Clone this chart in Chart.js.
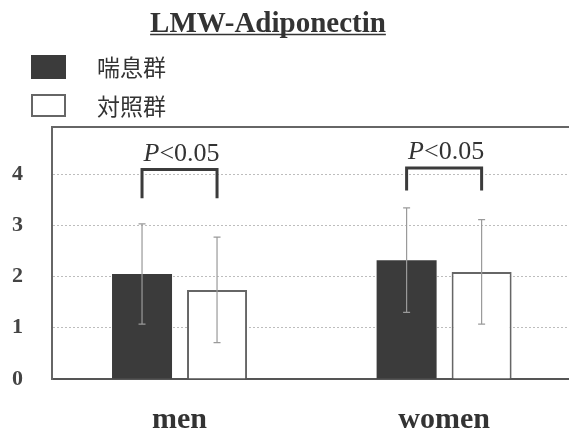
<!DOCTYPE html>
<html>
<head>
<meta charset="utf-8">
<script src="https://cdn.jsdelivr.net/npm/chart.js@4/dist/chart.umd.min.js"></script>
<style>
  html, body { margin: 0; padding: 0; background: #fff; overflow: hidden; }
  #wrap { width: 569px; height: 434px; }
</style>
</head>
<body>
<div id="wrap"><canvas id="c" width="569" height="434"></canvas></div>
<script>
// LMW-Adiponectin, asthma group vs control group, mean ± SD
const titleText = 'LMW-Adiponectin';
const categories = ['men', 'women'];
const seriesNames = ['喘息群', '対照群'];
const asthmaMeans = [2.05, 2.32];
const asthmaSD = [0.98, 1.02];
const controlMeans = [1.74, 2.09];
const controlSD = [1.03, 1.02];
const yTicks = [0, 1, 2, 3, 4];
const yRange = [0, 4.92];
const xRange = [-0.482, 1.472];
// significance brackets (value units) and their labels
const bracketTop = [4.09, 4.12];
const bracketBottom = [3.53, 3.68];
const sigItalic = ['P', 'P'];
const sigRest = ['<0.05', '<0.05'];

const DARK = '#3b3b3b';
const SERIF = "'Liberation Serif', 'DejaVu Serif', serif";
const CJK = "'Noto Sans CJK JP', 'Noto Sans', sans-serif";

const sdBySeries = [asthmaSD, controlSD];

const decorations = {
  id: 'decorations',
  afterDatasetsDraw(chart) {
    const ctx = chart.ctx;
    const area = chart.chartArea;
    const y = chart.scales.y;

    // top frame line
    ctx.save();
    ctx.strokeStyle = '#666';
    ctx.lineWidth = 2;
    ctx.beginPath();
    ctx.moveTo(area.left - 1, area.top);
    ctx.lineTo(area.right, area.top);
    ctx.stroke();

    // error bars
    chart.data.datasets.forEach((ds, di) => {
      const meta = chart.getDatasetMeta(di);
      meta.data.forEach((bar, i) => {
        const m = ds.data[i].y;
        const sd = sdBySeries[di][i];
        const yHi = y.getPixelForValue(m + sd);
        const yLo = y.getPixelForValue(m - sd);
        ctx.strokeStyle = '#9a9a9a';
        ctx.lineWidth = 1.2;
        ctx.beginPath();
        ctx.moveTo(bar.x, yHi); ctx.lineTo(bar.x, yLo);
        ctx.moveTo(bar.x - 3.5, yHi); ctx.lineTo(bar.x + 3.5, yHi);
        ctx.moveTo(bar.x - 3.5, yLo); ctx.lineTo(bar.x + 3.5, yLo);
        ctx.stroke();
      });
    });

    // significance brackets with P labels
    const m0 = chart.getDatasetMeta(0), m1 = chart.getDatasetMeta(1);
    categories.forEach((c, i) => {
      const xl = m0.data[i].x, xr = m1.data[i].x;
      const yt = y.getPixelForValue(bracketTop[i]);
      const yb = y.getPixelForValue(bracketBottom[i]);
      ctx.strokeStyle = DARK;
      ctx.lineWidth = 3;
      ctx.lineJoin = 'miter';
      ctx.beginPath();
      ctx.moveTo(xl, yb); ctx.lineTo(xl, yt); ctx.lineTo(xr, yt); ctx.lineTo(xr, yb);
      ctx.stroke();

      const fItal = 'italic 26px ' + SERIF;
      const fReg = '26px ' + SERIF;
      ctx.font = fItal; const w1 = ctx.measureText(sigItalic[i]).width;
      ctx.font = fReg; const w2 = ctx.measureText(sigRest[i]).width;
      const cx = (xl + xr) / 2 + 2;
      const x0 = cx - (w1 + w2) / 2;
      const base = yt - 9;
      ctx.fillStyle = '#333';
      ctx.textBaseline = 'alphabetic';
      ctx.textAlign = 'left';
      ctx.font = fItal; ctx.fillText(sigItalic[i], x0, base);
      ctx.font = fReg; ctx.fillText(sigRest[i], x0 + w1, base);
    });

    // underlined title
    ctx.font = 'bold 29px ' + SERIF;
    ctx.fillStyle = '#333';
    ctx.textAlign = 'center';
    ctx.textBaseline = 'alphabetic';
    const tx = 268, ty = 32;
    ctx.fillText(titleText, tx, ty);
    const tw = ctx.measureText(titleText).width;
    ctx.strokeStyle = '#333';
    ctx.lineWidth = 1.6;
    ctx.beginPath();
    ctx.moveTo(tx - tw / 2, ty + 2.5); ctx.lineTo(tx + tw / 2, ty + 2.5);
    ctx.stroke();

    // legend, built from the datasets
    const rows = [{ top: 55, h: 24, mid: 67 }, { top: 94, h: 23, mid: 106 }];
    chart.data.datasets.forEach((ds, di) => {
      const r = rows[di];
      ctx.fillStyle = ds.backgroundColor;
      ctx.fillRect(31, r.top, 35, r.h);
      if (ds.borderWidth) {
        ctx.strokeStyle = ds.borderColor;
        ctx.lineWidth = 2;
        ctx.strokeRect(32, r.top + 1, 33, r.h - 2);
      }
      ctx.fillStyle = '#333';
      ctx.font = '23px ' + CJK;
      ctx.textAlign = 'left';
      ctx.textBaseline = 'middle';
      ctx.fillText(ds.label, 97, r.mid);
    });
    ctx.restore();
  }
};

new Chart(document.getElementById('c'), {
  type: 'bar',
  data: {
    datasets: [
      {
        label: seriesNames[0],
        data: asthmaMeans.map((v, i) => ({ x: i, y: v })),
        backgroundColor: DARK,
        borderColor: DARK,
        borderWidth: 0
      },
      {
        label: seriesNames[1],
        data: controlMeans.map((v, i) => ({ x: i, y: v })),
        backgroundColor: '#ffffff',
        borderColor: '#666',
        borderWidth: 2,
        borderSkipped: 'bottom'
      }
    ]
  },
  options: {
    responsive: false,
    animation: false,
    layout: { padding: { top: 127, left: 0, right: 0, bottom: 0 } },
    categoryPercentage: 0.567,
    barPercentage: 0.8,
    plugins: {
      legend: { display: false },
      title: { display: false },
      tooltip: { enabled: false }
    },
    scales: {
      x: {
        type: 'linear',
        offset: false,
        min: xRange[0],
        max: xRange[1],
        afterBuildTicks: (s) => { s.ticks = categories.map((_, i) => ({ value: i })); },
        afterFit: (s) => { s.height = 55; },
        grid: { display: false, drawTicks: false, offset: false },
        border: { display: true, color: '#555', width: 2 },
        ticks: {
          callback: (v) => categories[v] ?? '',
          autoSkip: false,
          maxRotation: 0,
          padding: 23,
          color: '#333',
          font: { family: SERIF, size: 30, weight: 'bold' }
        }
      },
      y: {
        min: yRange[0],
        max: yRange[1],
        afterBuildTicks: (s) => { s.ticks = yTicks.map(v => ({ value: v })); },
        afterFit: (s) => { s.width = 52; },
        grid: { color: '#bdbdbd', lineWidth: 1, drawTicks: false },
        border: { display: true, color: '#666', width: 2, dash: [2, 2] },
        ticks: {
          padding: 29,
          color: '#444',
          font: { family: SERIF, size: 22, weight: 'bold' }
        }
      }
    }
  },
  plugins: [decorations]
});
</script>
</body>
</html>
